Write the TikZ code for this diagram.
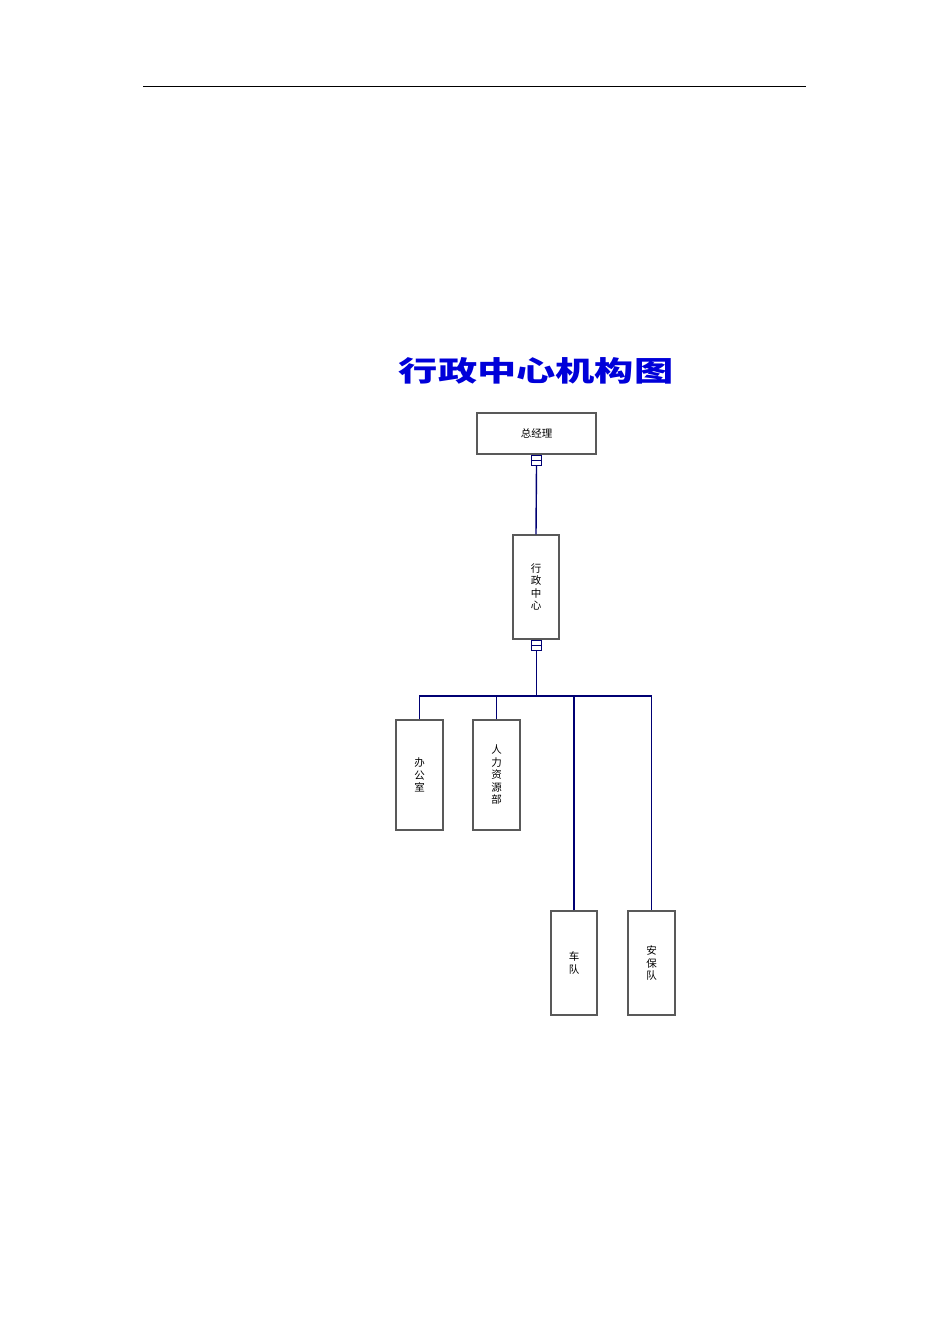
\documentclass[tikz,border=0pt]{standalone}
\usepackage{fontspec}
\newfontfamily\cjk{Noto Sans CJK SC}
\begin{document}
\begin{tikzpicture}[x=1pt,y=-1pt,
  box/.style={draw=gray!70!black,line width=1.2pt,fill=white,inner sep=0pt,font=\cjk\fontsize{10.5}{12.5}\selectfont,align=center},
  link/.style={draw=blue!45!black,line width=1.4pt},
  conn/.style={draw=blue!45!black,line width=1.1pt,fill=white,minimum width=10pt,minimum height=10pt,inner sep=0pt}]
\useasboundingbox (0,0) rectangle (950,1344);
\draw[line width=0.8pt] (143,86) -- (806,86);
\node[xscale=1.4] (title) at (536,371) {\cjk\bfseries\fontsize{28}{30}\selectfont\color{blue!85!black}行政中心机构图};
\node[box,minimum width=119pt,minimum height=41pt] (gm) at (536.5,433.5) {总经理};
\node[box,minimum width=46pt,minimum height=104pt] (xz) at (536,587) {行\\政\\中\\心};
\node[box,minimum width=47pt,minimum height=110pt] (bg) at (419.5,775) {办\\公\\室};
\node[box,minimum width=47pt,minimum height=110pt] (hr) at (496.5,775) {人\\力\\资\\源\\部};
\node[box,minimum width=46pt,minimum height=104pt] (cd) at (574,963) {车\\队};
\node[box,minimum width=47pt,minimum height=104pt] (ab) at (651.5,963) {安\\保\\队};
\node[conn] (c1) at (536.5,460.5) {};
\node[conn] (c2) at (536.5,645.5) {};
\draw[blue!45!black,line width=1pt] (c1.west) -- (c1.east) (c2.west) -- (c2.east);
\coordinate (bus) at (536.5,696);
\draw[link] (c1.south) -- (xz.north);
\draw[link] (c2.south) -- (bus);
\draw[link] (bg.north) |- (bus) -| (ab.north);
\draw[link] (hr.north) -- (hr.north |- bus);
\draw[link] (cd.north) -- (cd.north |- bus);
\end{tikzpicture}
\end{document}
